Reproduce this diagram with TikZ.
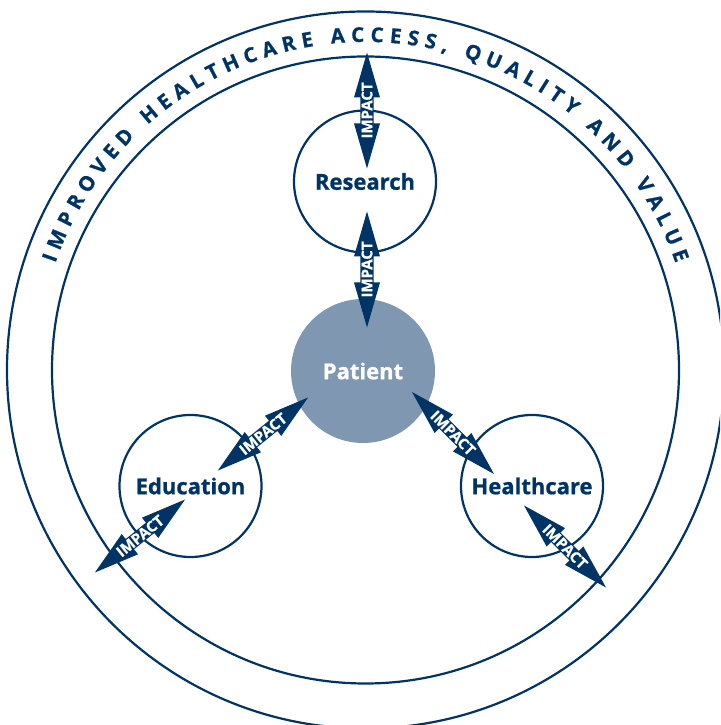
\documentclass[tikz,border=0pt]{standalone}
\usepackage{fontspec}
\setmainfont{Open Sans}[BoldFeatures={FakeBold=0.8}]
\usetikzlibrary{decorations.text}
\definecolor{navy}{RGB}{0,52,102}
\definecolor{patientfill}{RGB}{127,151,176}
\newcommand{\ringfont}{\fontsize{20.5}{22}\selectfont\bfseries}
\newcommand{\impactfont}{\fontsize{15}{15}\selectfont\bfseries}

\begin{document}
\begin{tikzpicture}[
    x=1pt, y=1pt,
    font=\fontsize{22}{24}\selectfont\bfseries,
    hub/.style={circle, draw=navy, line width=2.2pt, minimum size=142pt, inner sep=0pt, text=navy},
    ring/.style={draw=navy, line width=2.2pt},
    impact/.pic={
        \fill[navy] (-58,0) -- (-13,13) -- (-13,6.6) -- (13,6.6) -- (13,13) -- (58,0)
            -- (13,-13) -- (13,-6.6) -- (-13,-6.6) -- (-13,-13) -- cycle;
        \node[transform shape, text=white, font=\impactfont, inner sep=0pt] (-txt) {IMPACT};
    }
]
\clip (0,0) rectangle (720,725);

% Outer band with its title
\coordinate (ctr) at (365.5,355);
\draw[ring] (ctr) circle (358.5pt);
\draw[ring] (ctr) circle (313.5pt);
\path[decorate, decoration={text along path, text color=navy, text align=fit to path,
    text={|\ringfont|IMPROVED HEALTHCARE ACCESS, QUALITY AND VALUE}}]
    ([shift={(161:328pt)}]ctr) arc[start angle=161, end angle=19, radius=328pt];

% Circles
\node[hub, fill=patientfill, draw=none, minimum size=144pt, text=white] (patient) at (363,354) {Patient};
\node[hub] (research) at (365,543.5) {Research};
\node[hub] (education) at (190.5,239) {Education};
\node[hub] (healthcare) at (532,239) {Healthcare};

% Impact arrows
\pic[rotate=90] (resout) at (367,614.5) {impact};
\pic[rotate=90] (respat) at (367,455.5) {impact};
\pic[rotate=39] (edupat) at (263,291) {impact};
\pic[rotate=39] (eduout) at (140,189) {impact};
\pic[rotate=-45] (hcpat) at (453,292) {impact};
\pic[rotate=-45] (hcout) at (565,178.5) {impact};

\end{tikzpicture}
\end{document}
